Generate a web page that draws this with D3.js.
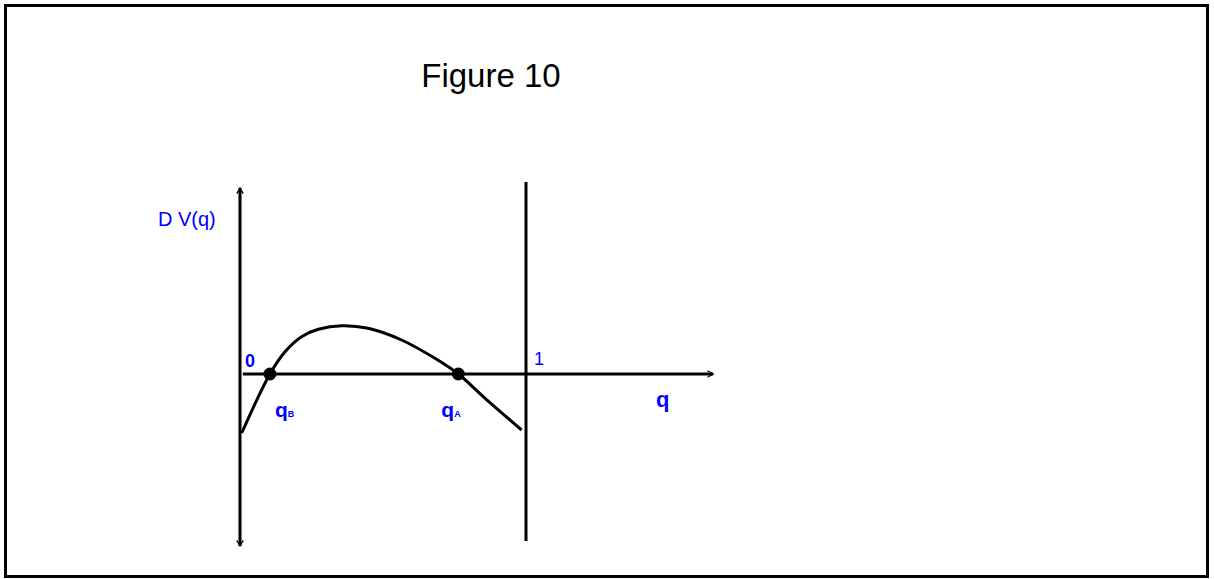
<!DOCTYPE html>
<html>
<head>
<meta charset="utf-8">
<script src="https://cdn.jsdelivr.net/npm/d3@7"></script>
<style>
  body { margin: 0; background: #fff; }
  text { font-family: "Liberation Sans", Arial, sans-serif; }
</style>
</head>
<body>
<div id="chart"></div>
<script>
// curve points (theta, delta V)
const curveTheta = [0.006, 0.105, 0.158, 0.216, 0.275, 0.357, 0.450, 0.567, 0.684, 0.766, 0.860, 0.988];
const curveDV = [-0.59, 0, 0.223, 0.373, 0.447, 0.483, 0.457, 0.34, 0.157, 0, -0.243, -0.56];
// roots of the curve
const rootNames = ["B", "A"];
const rootTheta = [0.105, 0.766];
// axis extents
const xAxisExtent = [0.01, 1.66];
const yAxisExtent = [-1.72, 1.86];
const oneLineExtent = [-1.67, 1.92];

const width = 1214, height = 579;
const blue = "#0000ff";

const svg = d3.select("#chart").append("svg")
  .attr("width", width)
  .attr("height", height);

// frame
svg.append("rect")
  .attr("x", 5.5).attr("y", 5.5)
  .attr("width", 1202).attr("height", 571)
  .attr("fill", "none")
  .attr("stroke", "#000")
  .attr("stroke-width", 3);

// title
svg.append("text")
  .attr("x", 491).attr("y", 87)
  .attr("text-anchor", "middle")
  .attr("font-size", 33)
  .text("Figure 10");

const x = d3.scaleLinear().domain([0, 1]).range([240, 525]);
const y = d3.scaleLinear().domain([-1, 1]).range([474, 274]);

// arrowheads
const defs = svg.append("defs");
defs.append("marker")
  .attr("id", "arrow")
  .attr("viewBox", "0 0 10 10")
  .attr("refX", 8).attr("refY", 5)
  .attr("markerWidth", 8).attr("markerHeight", 8)
  .attr("markerUnits", "userSpaceOnUse")
  .attr("orient", "auto-start-reverse")
  .append("path")
  .attr("d", "M1,1 L8,5 L1,9")
  .attr("fill", "none")
  .attr("stroke", "#000")
  .attr("stroke-width", 1.6);

// horizontal theta axis
svg.append("line")
  .attr("x1", x(xAxisExtent[0])).attr("x2", x(xAxisExtent[1]))
  .attr("y1", y(0)).attr("y2", y(0))
  .attr("stroke", "#000")
  .attr("stroke-width", 3)
  .attr("marker-end", "url(#arrow)");

// vertical delta V axis
svg.append("line")
  .attr("x1", x(0)).attr("x2", x(0))
  .attr("y1", y(yAxisExtent[0])).attr("y2", y(yAxisExtent[1]))
  .attr("stroke", "#000")
  .attr("stroke-width", 3)
  .attr("marker-start", "url(#arrow)")
  .attr("marker-end", "url(#arrow)");

// theta = 1 line
svg.append("line")
  .attr("x1", x(1) + 1).attr("x2", x(1) + 1)
  .attr("y1", y(oneLineExtent[0])).attr("y2", y(oneLineExtent[1]))
  .attr("stroke", "#000")
  .attr("stroke-width", 3);

// curve
const curveData = curveTheta.map((t, i) => ({ t: t, v: curveDV[i] }));
const line = d3.line()
  .x(d => x(d.t))
  .y(d => y(d.v))
  .curve(d3.curveCatmullRom);

svg.append("path")
  .datum(curveData)
  .attr("fill", "none")
  .attr("stroke", "#000")
  .attr("stroke-width", 3)
  .attr("d", line);

// root dots
svg.selectAll(".root")
  .data(rootTheta)
  .enter().append("circle")
  .attr("class", "root")
  .attr("cx", d => x(d))
  .attr("cy", y(0))
  .attr("r", 6.5)
  .attr("fill", "#000");

// root labels
const rootLabels = svg.selectAll(".root-label")
  .data(rootTheta)
  .enter().append("text")
  .attr("class", "root-label")
  .attr("x", d => x(d) + 5 - (d > 0.5 ? 22 : 0))
  .attr("y", y(-0.43))
  .attr("fill", blue)
  .attr("font-weight", "bold")
  .attr("font-size", 21);
rootLabels.append("tspan").text("q");
rootLabels.append("tspan")
  .attr("font-size", 9)
  .text((d, i) => rootNames[i]);

// other labels
svg.append("text")
  .attr("x", 158).attr("y", 226)
  .attr("fill", blue)
  .attr("font-size", 20)
  .text("D V(q)");

svg.append("text")
  .attr("x", x(0) + 5).attr("y", y(0.07))
  .attr("fill", blue)
  .attr("font-weight", "bold")
  .attr("font-size", 18)
  .text("0");

svg.append("text")
  .attr("x", x(1) + 9).attr("y", y(0.09))
  .attr("fill", blue)
  .attr("font-size", 18)
  .text("1");

svg.append("text")
  .attr("x", x(1.46)).attr("y", y(-0.33))
  .attr("fill", blue)
  .attr("font-weight", "bold")
  .attr("font-size", 22)
  .text("q");
</script>
</body>
</html>
